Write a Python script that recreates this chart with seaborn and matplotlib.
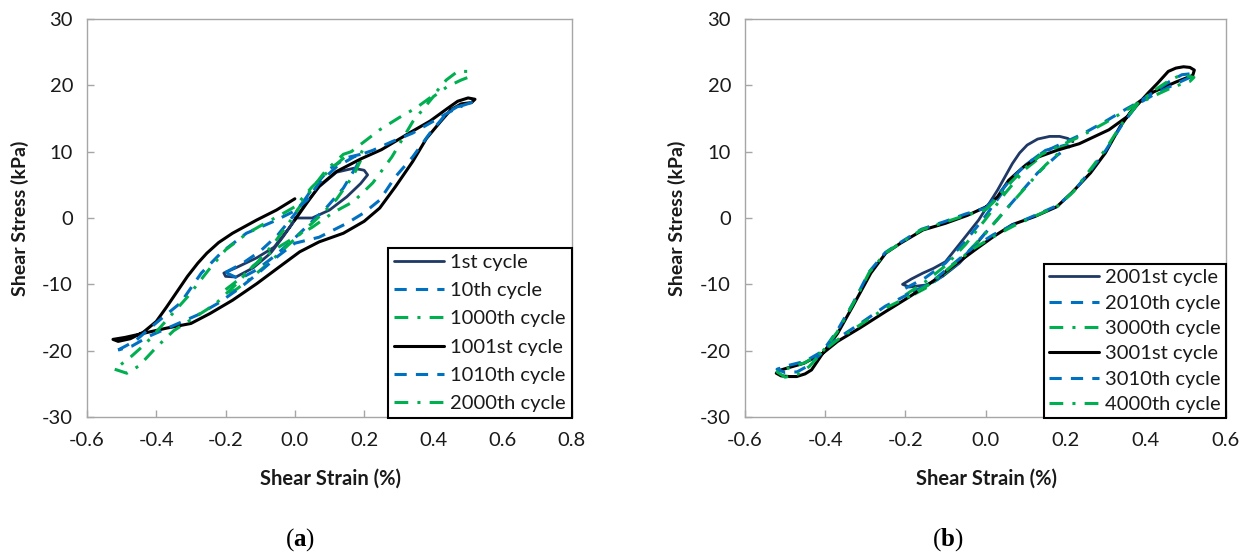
import matplotlib
matplotlib.use("Agg")
import matplotlib.pyplot as plt
import numpy as np
import pandas as pd
import seaborn as sns
from matplotlib.ticker import FormatStrFormatter

# ---------------- data: panel (a) ----------------
a_labels = ["1st cycle", "10th cycle", "1000th cycle", "1001st cycle", "1010th cycle", "2000th cycle"]

a1_x = [0.00, 0.05, 0.10, 0.15, 0.19, 0.21, 0.20, 0.17, 0.12, 0.07, 0.025, -0.015, -0.06, -0.11, -0.17, -0.205, -0.20, -0.17, -0.12, -0.07, -0.035, 0.00]
a1_y = [0.0, 0.0, 1.2, 3.2, 5.2, 6.5, 7.2, 7.5, 6.9, 4.7, 1.7, -1.4, -4.4, -6.0, -7.5, -8.3, -8.8, -8.9, -7.5, -5.3, -2.9, -0.3]

a10_x = [-0.20, -0.15, -0.10, -0.05, 0.00, 0.05, 0.10, 0.15, 0.19, 0.18, 0.14, 0.09, 0.04, -0.01, -0.06, -0.11, -0.16, -0.20]
a10_y = [-8.2, -6.8, -5.0, -2.6, 0.6, 4.4, 7.4, 9.1, 9.6, 8.0, 4.5, 1.5, -1.0, -3.5, -5.8, -7.8, -9.2, -8.2]

a1000_x = [-0.20, -0.16, -0.11, -0.06, -0.01, 0.04, 0.09, 0.14, 0.18, 0.20, 0.17, 0.12, 0.07, 0.02, -0.03, -0.08, -0.13, -0.17, -0.20]
a1000_y = [-10.8, -9.2, -6.8, -3.8, -0.2, 3.8, 7.2, 9.6, 10.3, 9.8, 6.5, 2.8, 0.2, -2.2, -4.6, -7.0, -9.2, -10.8, -11.4]

a1001_x = [0.00, 0.035, 0.07, 0.12, 0.19, 0.25, 0.33, 0.39, 0.44, 0.47, 0.50, 0.52, 0.51, 0.48, 0.45, 0.42, 0.38, 0.34, 0.29, 0.245,
           0.20, 0.14, 0.07, 0.014, -0.043, -0.11, -0.18, -0.245, -0.30, -0.37, -0.447, -0.49, -0.525, -0.51, -0.475, -0.437,
           -0.40, -0.37, -0.34, -0.31, -0.28, -0.254, -0.22, -0.18, -0.11, -0.053, 0.00]
a1001_y = [-0.3, 2.3, 4.8, 7.0, 8.9, 10.3, 12.8, 14.6, 16.5, 17.6, 18.1, 17.9, 17.4, 17.2, 16.3, 14.5, 12.0, 8.5, 4.7, 1.5,
           -0.5, -2.3, -3.6, -5.1, -7.3, -9.9, -12.4, -14.4, -15.9, -16.6, -17.5, -18.0, -18.3, -18.6, -18.2, -17.2,
           -15.6, -13.4, -11.1, -8.8, -6.8, -5.3, -3.7, -2.3, -0.3, 1.2, 2.9]

a1010_x = [-0.51, -0.46, -0.40, -0.33, -0.27, -0.21, -0.14, -0.063, -0.005, 0.035, 0.07, 0.12, 0.17, 0.225, 0.28, 0.34, 0.40, 0.44, 0.48, 0.51,
           0.50, 0.47, 0.44, 0.39, 0.34, 0.29, 0.245, 0.20, 0.15, 0.07, 0.00, -0.05, -0.11, -0.16, -0.22, -0.28, -0.35, -0.42, -0.47, -0.51]
a1010_y = [-19.9, -18.5, -15.8, -12.8, -8.3, -5.1, -2.3, -0.55, 0.95, 2.7, 5.3, 7.7, 9.2, 10.2, 11.5, 12.8, 14.6, 15.8, 16.9, 17.4,
           17.0, 16.8, 15.9, 12.8, 9.2, 6.2, 2.7, 0.8, -0.8, -2.9, -3.8, -5.8, -8.5, -10.6, -12.8, -14.6, -16.2, -17.8, -19.3, -19.9]

a2000_x = [-0.52, -0.485, -0.45, -0.40, -0.35, -0.29, -0.23, -0.17, -0.12, -0.06, 0.00, 0.05, 0.11, 0.17, 0.225, 0.28, 0.34, 0.40, 0.44, 0.48, 0.505,
           0.50, 0.47, 0.437, 0.40, 0.35, 0.30, 0.245, 0.17, 0.11, 0.05, 0.00, -0.04, -0.09, -0.14, -0.20, -0.25, -0.31, -0.37, -0.43, -0.475, -0.52]
a2000_y = [-22.8, -23.4, -22.3, -19.5, -17.0, -15.0, -13.0, -10.0, -7.2, -4.8, -2.9, -1.4, 0.8, 2.5, 5.3, 9.2, 14.5, 18.3, 19.8, 20.8, 21.3,
           22.1, 22.1, 20.8, 18.5, 16.6, 15.1, 13.3, 10.3, 7.7, 4.7, 1.7, 0.5, -0.9, -2.4, -4.8, -7.9, -11.9, -15.4, -18.9, -21.0, -22.8]

# ---------------- data: panel (b) ----------------
b_labels = ["2001st cycle", "2010th cycle", "3000th cycle", "3001st cycle", "3010th cycle", "4000th cycle"]

b2001_x = [0.218, 0.205, 0.185, 0.16, 0.13, 0.104, 0.085, 0.067, 0.03, -0.017, -0.063, -0.10, -0.13, -0.156, -0.185, -0.207, -0.19, -0.148, -0.107, -0.065, -0.03, 0.00]
b2001_y = [11.5, 12.0, 12.3, 12.3, 11.9, 11.0, 9.8, 8.2, 4.2, -0.3, -3.8, -6.6, -7.6, -8.3, -9.2, -10.0, -10.4, -10.1, -8.8, -6.8, -4.5, -2.2]

b2010_x = [-0.20, -0.15, -0.10, -0.05, 0.00, 0.05, 0.10, 0.15, 0.20, 0.21, 0.18, 0.13, 0.08, 0.03, -0.02, -0.07, -0.12, -0.17, -0.20]
b2010_y = [-10.6, -9.0, -6.8, -3.5, 0.3, 4.5, 8.0, 10.2, 11.0, 10.8, 9.5, 6.8, 3.3, -0.2, -3.6, -6.9, -9.3, -10.9, -11.3]

b3000_x = [-0.20, -0.15, -0.10, -0.05, 0.00, 0.05, 0.10, 0.15, 0.20, 0.19, 0.15, 0.10, 0.05, 0.00, -0.05, -0.10, -0.15, -0.20]
b3000_y = [-11.6, -9.6, -7.2, -4.0, -0.2, 3.8, 7.4, 9.8, 10.9, 10.2, 8.0, 4.6, 1.2, -2.3, -5.5, -8.3, -10.6, -12.2]

b3001_x = [0.002, 0.030, 0.058, 0.095, 0.132, 0.178, 0.234, 0.308, 0.354, 0.378, 0.405, 0.429, 0.456, 0.475, 0.494, 0.510, 0.521, 0.517, 0.475, 0.419,
           0.378, 0.336, 0.299, 0.262, 0.215, 0.178, 0.122, 0.067, 0.020, -0.026, -0.082, -0.137, -0.193, -0.249, -0.314, -0.369,
           -0.406, -0.453, -0.499, -0.515, -0.522, -0.510, -0.490, -0.471, -0.450, -0.434, -0.406, -0.369, -0.332, -0.286, -0.249, -0.212, -0.156, -0.100,
           -0.045, 0.002]
b3001_y = [1.7, 3.2, 5.7, 7.7, 9.2, 10.2, 11.2, 13.3, 15.3, 17.0, 18.8, 20.3, 22.1, 22.6, 22.8, 22.7, 22.3, 21.5, 20.5, 19.0,
           17.3, 13.8, 9.8, 6.8, 3.8, 1.7, 0.2, -1.0, -2.8, -4.8, -7.3, -9.8, -12.0, -14.1, -16.6, -18.6,
           -20.4, -21.9, -22.7, -23.0, -23.4, -23.8, -23.9, -23.9, -23.5, -22.9, -20.4, -17.4, -13.4, -8.3, -5.3, -3.8, -1.8, -0.8,
           0.4, 1.7]

b3010_x = [0.00, 0.03, 0.06, 0.10, 0.14, 0.19, 0.24, 0.30, 0.35, 0.38, 0.43, 0.46, 0.49, 0.52, 0.51, 0.47, 0.42, 0.38, 0.34, 0.30,
           0.26, 0.22, 0.18, 0.12, 0.07, 0.02, -0.03, -0.08, -0.14, -0.19, -0.25, -0.31, -0.37, -0.41, -0.45, -0.49, -0.52, -0.50,
           -0.47, -0.44, -0.41, -0.37, -0.33, -0.29, -0.25, -0.21, -0.16, -0.10, -0.05, 0.00]
b3010_y = [1.5, 3.4, 5.6, 8.0, 9.8, 11.2, 12.6, 14.6, 16.4, 17.4, 19.4, 20.6, 21.6, 21.8, 21.2, 20.1, 18.6, 17.2, 14.0, 10.2,
           7.0, 4.0, 1.9, 0.3, -1.0, -2.5, -4.4, -6.9, -9.9, -11.4, -13.3, -15.8, -18.2, -20.2, -21.6, -22.2, -22.8, -23.3,
           -23.2, -22.2, -20.4, -17.0, -12.8, -8.1, -5.2, -3.6, -1.7, -0.5, 0.6, 1.5]

b4000_x = [0.00, 0.03, 0.06, 0.10, 0.14, 0.19, 0.24, 0.30, 0.35, 0.38, 0.43, 0.46, 0.49, 0.52, 0.51, 0.47, 0.42, 0.38, 0.34, 0.30,
           0.26, 0.22, 0.18, 0.12, 0.07, 0.02, -0.03, -0.08, -0.14, -0.19, -0.25, -0.31, -0.37, -0.41, -0.45, -0.49, -0.52, -0.50,
           -0.47, -0.44, -0.41, -0.37, -0.33, -0.29, -0.25, -0.21, -0.16, -0.10, -0.05, 0.00]
b4000_y = [1.2, 3.0, 5.2, 7.6, 9.6, 11.0, 12.4, 14.4, 16.2, 17.3, 19.6, 20.8, 21.6, 21.2, 20.6, 19.8, 18.4, 17.2, 14.2, 10.4,
           7.2, 4.0, 1.8, 0.2, -1.2, -2.8, -4.6, -7.0, -10.0, -11.8, -13.6, -16.0, -18.4, -20.3, -21.8, -22.6, -23.2, -24.0,
           -23.6, -22.4, -20.4, -17.2, -12.9, -8.2, -5.3, -3.7, -1.8, -0.6, 0.4, 1.2]

a_ticks_x = [-0.6, -0.4, -0.2, 0.0, 0.2, 0.4, 0.6, 0.8]
b_ticks_x = [-0.6, -0.4, -0.2, 0.0, 0.2, 0.4, 0.6]
ticks_y = [-30, -20, -10, 0, 10, 20, 30]

# ---------------- style ----------------
sns.set_theme(style="white")
plt.rcParams['font.family'] = ['Lato', 'DejaVu Sans']
plt.rcParams['axes.unicode_minus'] = False
plt.rcParams['mathtext.fontset'] = 'custom'
plt.rcParams['mathtext.rm'] = 'Liberation Serif'
plt.rcParams['mathtext.bf'] = 'Liberation Serif:bold'
plt.rcParams['lines.solid_joinstyle'] = 'round'
plt.rcParams['lines.dash_joinstyle'] = 'round'

NAVY = '#1F3864'
BLUE = '#0070C0'
GREEN = '#00B050'
BLACK = '#000000'
DASH = (0, (4, 3))
DASHDOT = (0, (4.5, 3, 1, 3))
series_style = [
    dict(color=NAVY, linewidth=2.0, linestyle='-'),
    dict(color=BLUE, linewidth=2.2, linestyle=DASH),
    dict(color=GREEN, linewidth=2.2, linestyle=DASHDOT),
    dict(color=BLACK, linewidth=2.2, linestyle='-'),
    dict(color=BLUE, linewidth=2.2, linestyle=DASH),
    dict(color=GREEN, linewidth=2.2, linestyle=DASHDOT),
]

W, H = 1253, 556
fig = plt.figure(figsize=(W / 100, H / 100), dpi=100)
axL = fig.add_axes([87 / W, (H - 417) / H, (572 - 87) / W, 398 / H])
axR = fig.add_axes([745 / W, (H - 417) / H, (1226 - 745) / W, 398 / H])


def draw(ax, xs, ys, label, st):
    df = pd.DataFrame({"strain": xs, "stress": ys})
    sns.lineplot(data=df, x="strain", y="stress", ax=ax, sort=False, estimator=None,
                 label=label, **st)


a_series = [(a1_x, a1_y), (a10_x, a10_y), (a1000_x, a1000_y), (a1001_x, a1001_y), (a1010_x, a1010_y), (a2000_x, a2000_y)]
b_series = [(b2001_x, b2001_y), (b2010_x, b2010_y), (b3000_x, b3000_y), (b3001_x, b3001_y), (b3010_x, b3010_y), (b4000_x, b4000_y)]

for (xs, ys), lab, st in zip(a_series, a_labels, series_style):
    draw(axL, xs, ys, lab, st)
for (xs, ys), lab, st in zip(b_series, b_labels, series_style):
    draw(axR, xs, ys, lab, st)

SPINE = '#A6A6A6'
TXT = '#1a1a1a'
for ax, xt in ((axL, a_ticks_x), (axR, b_ticks_x)):
    ax.set_xlim(xt[0], xt[-1])
    ax.set_ylim(-30, 30)
    ax.set_xticks(xt)
    ax.set_yticks(ticks_y)
    ax.xaxis.set_major_formatter(FormatStrFormatter('%.1f'))
    ax.yaxis.set_major_formatter(FormatStrFormatter('%d'))
    ax.set_xlabel("")
    ax.set_ylabel("")
    for s in ax.spines.values():
        s.set_color(SPINE)
        s.set_linewidth(1.0)
    ax.tick_params(axis='both', direction='in', length=5, width=1.0, color=SPINE,
                   labelsize=14.5, labelcolor=TXT)
    ax.tick_params(axis='x', pad=11, bottom=True, top=False)
    ax.tick_params(axis='y', pad=10, left=True, right=False)
    ax.grid(False)

# legends
for ax, right_px, bottom_px, ls, bp in ((axL, 572, 418, 0.55, 0.30), (axR, 1226, 418, 0.41, 0.25)):
    leg = ax.legend(loc='lower right', bbox_to_anchor=(right_px / W, (H - bottom_px) / H),
                    bbox_transform=fig.transFigure, frameon=True, fancybox=False, framealpha=1,
                    edgecolor='black', fontsize=14.5, handlelength=2.5, handletextpad=0.3,
                    labelspacing=ls, borderpad=bp, borderaxespad=0)
    leg.get_frame().set_linewidth(1.5)
    for t in leg.get_texts():
        t.set_color(TXT)

# axis titles
for cx in (330, 986):
    fig.text(cx / W, 1 - 479 / H, "Shear Strain (%)", ha='center', va='center',
             fontsize=14.5, fontweight='bold', color=TXT)
for cx in (20, 677):
    fig.text(cx / W, 1 - 218 / H, "Shear Stress (kPa)", ha='center', va='center',
             rotation=90, fontsize=14, fontweight='bold', color=TXT)

# panel letters
fig.text(300 / W, 1 - 540 / H, r"($\mathbf{a}$)", ha='center', va='center',
         family='Liberation Serif', fontsize=18, color='black')
fig.text(948 / W, 1 - 540 / H, r"($\mathbf{b}$)", ha='center', va='center',
         family='Liberation Serif', fontsize=18, color='black')

fig.savefig("out.png", dpi=100)
